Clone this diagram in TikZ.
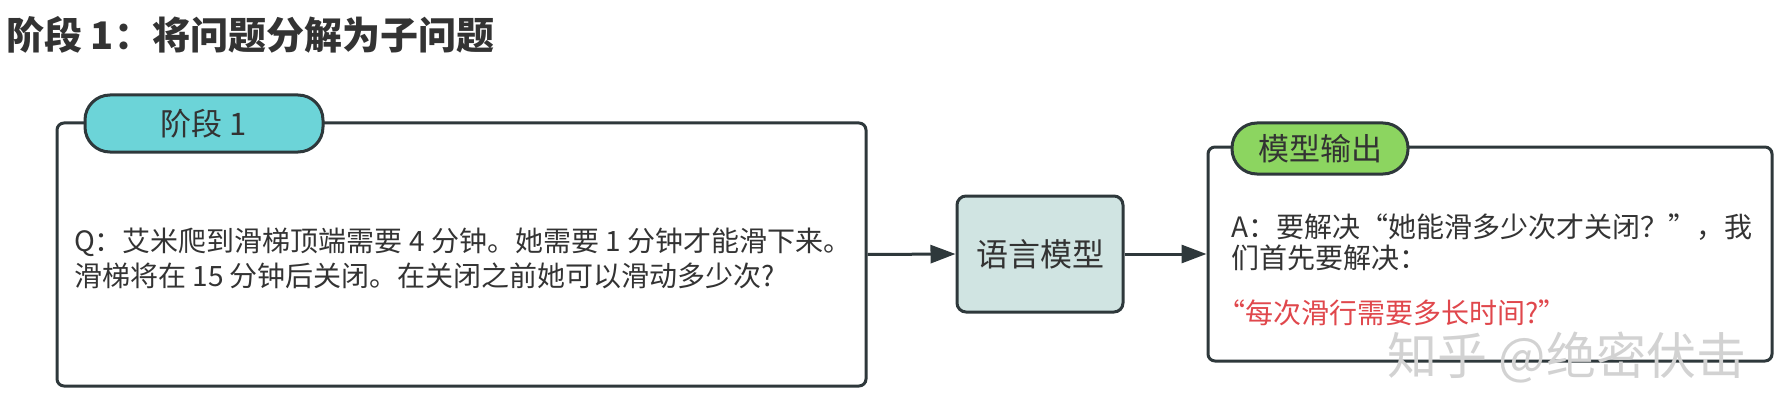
\documentclass[tikz,border=0pt]{standalone}
\usepackage{fontspec}
\setmainfont{Noto Sans CJK SC}
\usetikzlibrary{arrows.meta,positioning}

\definecolor{edgedark}{HTML}{2E383B}
\definecolor{textdark}{HTML}{333333}
\definecolor{tabcyan}{HTML}{6CD4D8}
\definecolor{tabgreen}{HTML}{8CD560}
\definecolor{modelfill}{HTML}{D0E4E2}
\definecolor{hintred}{HTML}{E0474C}

\tikzset{
	panel/.style = {draw=edgedark, line width=3pt, rounded corners=7pt, fill=white},
	tab/.style = {draw=edgedark, line width=3pt, rounded corners=25pt, text=textdark,
		font=\fontsize{31}{36}\selectfont},
	model/.style = {draw=edgedark, line width=3pt, rounded corners=9pt, fill=modelfill,
		text=textdark, font=\fontsize{32}{36}\selectfont},
	body/.style = {anchor=west, align=left, inner sep=0pt, text=textdark,
		font=\fontsize{28}{33}\selectfont},
	flow/.style = {draw=edgedark, line width=3pt, -{Triangle[length=25pt,width=18pt]}},
}

\begin{document}
\begin{tikzpicture}[x=1pt, y=-1pt]
	\useasboundingbox (0,0) rectangle (1779,401);
	
	\node [anchor=west, inner sep=0pt, text=textdark, font=\fontsize{38}{44}\selectfont\bfseries]
		(title) at (6,35) {阶段 1：将问题分解为子问题};
	
	\node [panel, minimum width=809, minimum height=263] (question) at (461.5,254.5) {};
	\node [tab, fill=tabcyan, minimum width=238, minimum height=57] (qtab) at (204,123.5) {阶段 1};
	\node [body, font=\fontsize{28}{35}\selectfont] (qtext) at (74,258) {Q：艾米爬到滑梯顶端需要 4 分钟。她需要 1 分钟才能滑下来。\\
		滑梯将在 15 分钟后关闭。在关闭之前她可以滑动多少次?};
	
	\node [model, minimum width=166, minimum height=116] (lm) at (1040,254) {语言模型};
	
	\node [panel, minimum width=564, minimum height=214] (answer) at (1490,254) {};
	\node [tab, fill=tabgreen, minimum width=176, minimum height=51] (atab) at (1320,148.5) {模型输出};
	\node [body, font=\fontsize{28}{31}\selectfont] (atext) at (1231,242.5) {A：要解决“她能滑多少次才关闭？”，我\\
		们首先要解决：};
	\node [body, text=hintred] (ahint) at (1231,313) {\kern-0.5em“每次滑行需要多长时间?”};
	
	\draw [flow] (question.east) -- (lm.west);
	\draw [flow] (lm.east) -- (answer.west);
	
	\node [text=gray!35, font=\fontsize{50}{56}\selectfont, inner sep=0pt] (mark) at (1567,358) {知乎 @绝密伏击};
	
\end{tikzpicture}
\end{document}
